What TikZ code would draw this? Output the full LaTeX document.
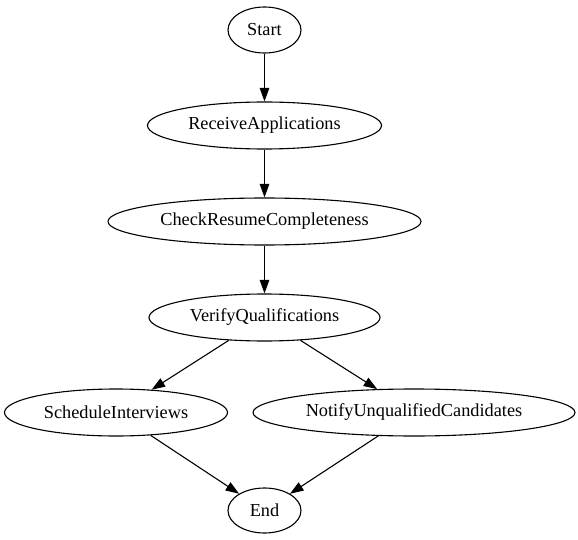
\documentclass[tikz,border=0pt]{standalone}
\usepackage{fontspec}
\setmainfont{Liberation Serif}
\usetikzlibrary{shapes.geometric,arrows.meta}
\tikzset{
  oval/.style={draw,ellipse,line width=1.1pt,inner sep=0pt},
  lbl/.style={inner sep=0pt,font=\fontsize{18.3}{21}\selectfont},
  edge/.style={line width=1.1pt,-{Triangle[length=13.5pt,width=9.5pt]}}
}
\begin{document}
\begin{tikzpicture}[x=1pt,y=1pt]
\useasboundingbox (0,0) rectangle (578,539);
\node[oval,minimum width=73pt,minimum height=46pt] (start) at (264.5,509) {};
\node[oval,minimum width=234pt,minimum height=47pt] (recv) at (264.5,413.5) {};
\node[oval,minimum width=313pt,minimum height=47pt] (check) at (264.5,317.5) {};
\node[oval,minimum width=231pt,minimum height=47pt] (verify) at (264.5,221.5) {};
\node[oval,minimum width=223pt,minimum height=47pt] (sched) at (116,126.5) {};
\node[oval,minimum width=322pt,minimum height=47pt] (notify) at (414,126.5) {};
\node[oval,minimum width=73pt,minimum height=45pt] (end) at (264.5,28.5) {};
\node[lbl] (tstart) at (start) {Start};
\node[lbl] (trecv) at (recv) {ReceiveApplications};
\node[lbl] (tcheck) at (check) {CheckResumeCompleteness};
\node[lbl] (tverify) at (verify) {VerifyQualifications};
\node[lbl] (tsched) at (sched) {ScheduleInterviews};
\node[lbl] (tnotify) at (notify) {NotifyUnqualifiedCandidates};
\node[lbl] (tend) at (end) {End};
\draw[edge] (start) -- (recv);
\draw[edge] (recv) -- (check);
\draw[edge] (check) -- (verify);
\draw[edge] (verify) -- (sched);
\draw[edge] (verify) -- (notify);
\draw[edge] (sched) -- (end);
\draw[edge] (notify) -- (end);
\end{tikzpicture}
\end{document}
